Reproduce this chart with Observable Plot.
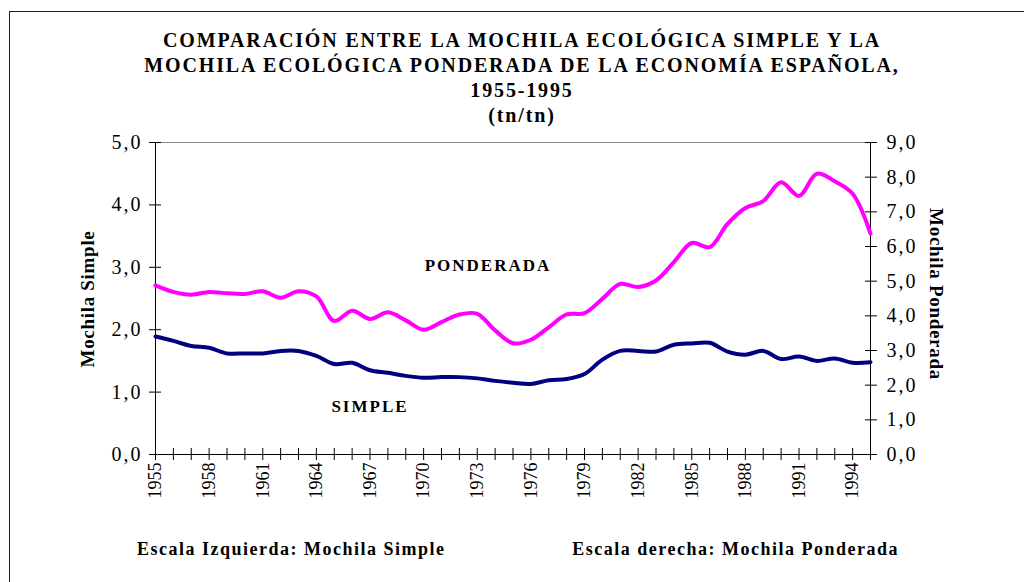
<!DOCTYPE html>
<html>
<head>
<meta charset="utf-8">
<script src="https://cdn.jsdelivr.net/npm/d3@7"></script>
<script src="https://cdn.jsdelivr.net/npm/@observablehq/plot@0.6"></script>
<style>
  body { margin: 0; background: #fff; }
  #wrap { position: relative; width: 1024px; height: 582px; overflow: hidden; font-family: "Liberation Serif", "Times New Roman", serif; color: #000; }
  #frame { position: absolute; left: 9px; top: 11px; width: 1200px; height: 800px; border-left: 1.5px solid #222; border-top: 1.5px solid #222; }
  #chart { position: absolute; left: 0; top: 0; }
  .t { position: absolute; font-weight: bold; white-space: nowrap; }
  #title { left: 0; width: 1044px; top: 28px; text-align: center; font-size: 20px; line-height: 25px; letter-spacing: 1.85px; }
  .ytitle { font-size: 19px; letter-spacing: 0.7px; }
  .foot { font-size: 18px; top: 539px; line-height: 20px; letter-spacing: 1.5px; }
</style>
</head>
<body>
<div id="wrap">
  <div id="frame"></div>
  <div id="chart"></div>
  <div class="t" id="title">COMPARACIÓN ENTRE LA MOCHILA ECOLÓGICA SIMPLE Y LA<br>MOCHILA ECOLÓGICA PONDERADA DE LA ECONOMÍA ESPAÑOLA,<br>1955-1995<br>(tn/tn)</div>
  <div class="t ytitle" style="left:88px;top:299px;transform:translate(-50%,-50%) rotate(-90deg);">Mochila Simple</div>
  <div class="t ytitle" style="left:936px;top:294px;transform:translate(-50%,-50%) rotate(90deg);">Mochila Ponderada</div>
  <div class="t foot" style="left:137px;">Escala Izquierda: Mochila Simple</div>
  <div class="t foot" style="right:125px;">Escala derecha: Mochila Ponderada</div>
</div>
<script>
// Data
const years = [1955,1956,1957,1958,1959,1960,1961,1962,1963,1964,1965,1966,1967,1968,1969,1970,1971,1972,1973,1974,1975,1976,1977,1978,1979,1980,1981,1982,1983,1984,1985,1986,1987,1988,1989,1990,1991,1992,1993,1994,1995];
const simple = [1.89,1.82,1.74,1.71,1.62,1.62,1.62,1.66,1.66,1.58,1.45,1.47,1.35,1.31,1.26,1.23,1.24,1.24,1.22,1.18,1.15,1.13,1.19,1.21,1.29,1.52,1.66,1.66,1.65,1.76,1.78,1.79,1.65,1.60,1.66,1.53,1.57,1.50,1.54,1.47,1.48];
const ponderada = [4.88,4.69,4.61,4.69,4.65,4.63,4.71,4.52,4.71,4.56,3.85,4.15,3.91,4.10,3.87,3.60,3.82,4.04,4.06,3.58,3.21,3.31,3.67,4.04,4.08,4.49,4.92,4.83,5.02,5.55,6.10,5.98,6.65,7.11,7.31,7.85,7.46,8.10,7.88,7.52,6.37];
const leftTicks = [0,1,2,3,4,5];
const rightTicks = [0,1,2,3,4,5,6,7,8,9];
const xLabelYears = [1955,1958,1961,1964,1967,1970,1973,1976,1979,1982,1985,1988,1991,1994];
const leftMax = 5, rightMax = 9;
const seriesLabels = [
  {text: "PONDERADA", year: 1973.6, value: 3.03},
  {text: "SIMPLE", year: 1967.0, value: 0.77}
];

const fmt = d => d.toFixed(1).replace(".", ",");
const toLeft = v => v * leftMax / rightMax;

const simpleData = years.map((y, i) => ({year: y, value: simple[i]}));
const pondData = years.map((y, i) => ({year: y, value: toLeft(ponderada[i])}));

const chart = Plot.plot({
  width: 1024,
  height: 582,
  marginTop: 142,
  marginBottom: 128,
  marginLeft: 155,
  marginRight: 154,
  x: {domain: [years[0], years[years.length - 1]], label: null},
  y: {domain: [0, leftMax], label: null},
  style: {fontFamily: "Liberation Serif, Times New Roman, serif", fontSize: "18px", color: "#000", background: "transparent", overflow: "visible"},
  marks: [
    Plot.ruleY([leftMax], {stroke: "#888", strokeWidth: 1}),
    Plot.ruleY([0], {stroke: "#000", strokeWidth: 1}),
    Plot.ruleX([years[0]], {stroke: "#000", strokeWidth: 1}),
    Plot.ruleX([years[years.length - 1]], {stroke: "#000", strokeWidth: 1}),
    // left axis
    Plot.axisY(leftTicks, {anchor: "left", tickSize: 12, dx: 6, fill: "none", label: null}),
    Plot.axisY(leftTicks, {anchor: "left", tickSize: 0, tickPadding: 13, tickFormat: fmt, label: null, fontSize: 20, className: "ylab"}),
    // right axis
    Plot.axisY(rightTicks.map(toLeft), {anchor: "right", tickSize: 12, dx: -6, fill: "none", label: null}),
    Plot.axisY(rightTicks.map(toLeft), {anchor: "right", tickSize: 0, tickPadding: 16, tickFormat: d => fmt(d * rightMax / leftMax), label: null, fontSize: 20, className: "ylab"}),
    // x axis
    Plot.axisX(years, {anchor: "bottom", tickSize: 12, dy: -6, fill: "none", label: null}),
    Plot.axisX(xLabelYears, {anchor: "bottom", tickSize: 0, tickPadding: 8, tickRotate: -90, tickFormat: d => String(d), label: null, fontSize: 18}),
    // lines
    Plot.line(pondData, {x: "year", y: "value", stroke: "#ff00ff", strokeWidth: 4, curve: "catmull-rom"}),
    Plot.line(simpleData, {x: "year", y: "value", stroke: "#000080", strokeWidth: 4, curve: "catmull-rom"}),
    Plot.text(seriesLabels, {x: "year", y: "value", text: "text", fontWeight: "bold", fontSize: 17, fill: "#000", className: "serieslabel"})
  ]
});
d3.select(chart).selectAll(".serieslabel text").style("letter-spacing", "2px");
d3.select(chart).selectAll(".ylab text").style("letter-spacing", "2px");
document.getElementById("chart").appendChild(chart);
</script>
</body>
</html>
